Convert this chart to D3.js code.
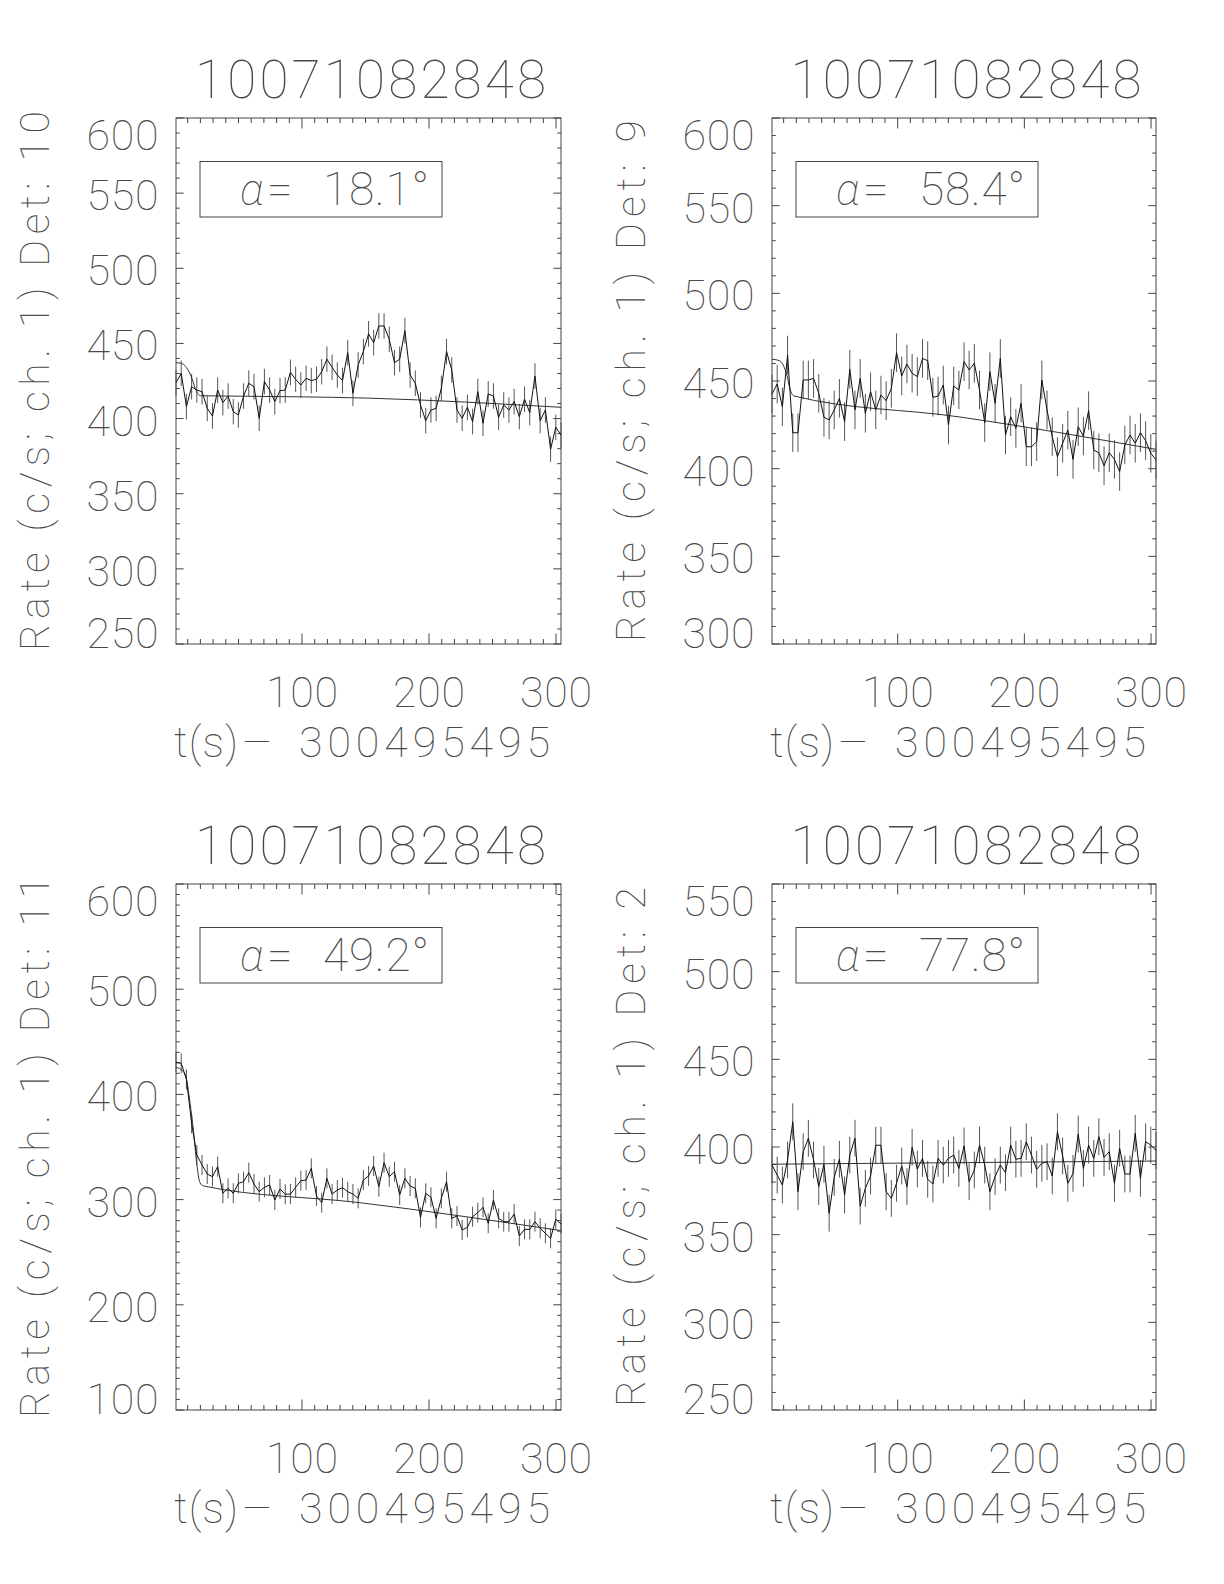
<!DOCTYPE html>
<html><head><meta charset="utf-8">
<script src="https://cdn.jsdelivr.net/npm/d3@7"></script>
<style>
html,body{margin:0;padding:0;background:#fff;}
svg text{font-family:Roboto, Lato, Inter, "DejaVu Sans", sans-serif;font-weight:100;fill:#4a4a4a;}
svg text.greek{font-style:italic;}
</style></head><body>
<svg id="chart" width="1224" height="1584"></svg>
<script>
// ---------------- DATA ----------------
const timeBins = [0.8,4.9,9.0,13.1,17.2,21.3,25.4,29.5,33.6,37.7,41.8,45.9,49.9,54.0,58.1,62.2,66.3,70.4,74.5,78.6,
  82.7,86.8,90.9,95.0,99.1,103.2,107.3,111.4,115.5,119.6,123.7,127.8,131.9,136.0,140.1,144.2,148.3,152.4,156.4,160.5,
  164.6,168.7,172.8,176.9,181.0,185.1,189.2,193.3,197.4,201.5,205.6,209.7,213.8,217.9,222.0,226.1,230.2,234.3,238.4,242.5,
  246.6,250.7,254.8,258.8,262.9,267.0,271.1,275.2,279.3,283.4,287.5,291.6,295.7,299.8,303.9];

const rateDet10 = [423.9,430.1,407.9,421.2,419.0,417.9,406.8,401.7,419.0,410.6,415.0,404.6,402.4,415.0,423.5,421.2,400.2,424.6,419.0,411.3,
  418.6,419.0,430.8,426.1,422.3,426.8,425.3,426.1,431.2,439.5,434.1,429.0,425.3,443.9,416.8,435.7,444.6,456.4,450.5,461.6,
  461.6,452.7,437.2,439.5,458.5,429.0,423.5,409.0,398.6,405.7,406.8,420.1,444.6,432.3,405.7,400.2,407.5,398.0,417.9,396.9,
  416.4,415.0,400.9,409.0,405.7,411.3,401.3,412.9,404.0,428.3,398.6,405.7,379.6,394.2,389.1];

const rateDet9 = [442.6,448.3,435.3,464.8,420.5,420.5,450.6,450.6,451.5,443.0,429.3,427.8,433.5,440.1,426.8,456.7,433.5,451.5,431.6,443.9,
  433.5,442.0,438.8,445.8,466.2,452.9,459.7,454.4,452.5,462.9,461.6,440.7,441.4,447.7,424.9,447.1,444.9,461.0,456.3,460.1,
  444.9,426.2,455.3,437.3,462.9,419.2,429.6,423.0,437.3,412.5,412.5,415.4,450.6,433.5,418.2,406.8,414.5,422.0,405.3,423.9,
  418.6,433.1,410.6,409.1,401.7,409.1,405.3,398.3,413.5,419.2,414.5,420.5,416.0,408.8,405.0];

const rateDet11 = [430.5,429.6,414.3,372.5,342.4,332.9,324.3,321.8,331.3,306.0,310.7,306.0,315.5,317.0,325.6,314.8,307.5,311.7,313.9,299.6,
  310.1,305.0,305.3,311.7,318.0,318.6,329.7,303.4,297.1,320.2,305.3,309.1,311.4,307.5,305.3,301.2,318.6,322.5,332.0,312.3,
  335.1,321.8,326.5,304.4,320.2,312.9,310.7,283.1,306.0,302.2,282.2,301.2,317.0,282.2,284.4,271.1,273.7,283.7,287.6,292.7,
  277.5,299.6,282.2,279.0,279.0,286.3,265.4,271.7,271.7,279.0,272.7,268.0,263.2,281.3,276.8];

const rateDet2 = [389.7,384.0,378.3,392.6,414.4,374.5,397.3,405.0,392.6,377.4,390.1,362.2,382.7,393.0,372.6,395.4,405.0,366.3,376.4,383.5,
  401.0,401.0,374.5,370.7,379.3,389.2,377.4,399.8,387.4,393.5,381.6,378.9,393.5,389.7,393.5,395.4,387.8,400.6,380.2,386.9,
  401.1,389.7,374.5,383.1,389.7,385.4,401.1,393.0,393.5,403.0,395.4,387.3,390.7,391.6,383.5,408.7,394.9,379.3,385.0,407.4,
  387.8,401.1,393.5,405.9,394.1,397.3,379.3,399.3,384.6,384.6,407.8,382.1,403.0,401.1,398.0];

// fitted background model, key points
const fitTimes10 = [0.8,5.0,9.0,13.0,16.0,20.0,40.0,152.0,304.0];
const fitRate10  = [437.2,436.8,434.0,427.5,420.0,415.2,415.0,413.6,407.5];
const fitTimes9  = [0.8,7.0,10.0,12.5,15.0,18.0,149.0,304.0];
const fitRate9   = [462.4,461.5,458.5,453.5,445.5,441.5,429.5,411.0];
const fitTimes11 = [0.8,6.6,9.2,11.9,14.5,17.1,19.7,22.4,146.0,304.0];
const fitRate11  = [425.8,421.6,413.7,391.5,366.0,334.5,316.0,313.0,297.0,270.5];
const fitTimes2  = [0.8,304.0];
const fitRate2   = [390.2,392.0];

const panelTitles   = ["10071082848","10071082848","10071082848","10071082848"];
const detectorNames = ["10","9","11","2"];
const alphaValues   = ["18.1","58.4","49.2","77.8"];
const yDomains      = [[250,600],[300,600],[100,600],[250,550]];
const yMajorSteps   = [50,50,100,50];
const errHalf       = [8.5,11.0,9.5,10.5];
const xTickValues   = [100,200,300];
const xDomain       = [0.8,303.9];
const xAxisTitleParts = ["t(s)", "\u2014", "300495495"];

// ---------------- LAYOUT ----------------
const rates = [rateDet10, rateDet9, rateDet11, rateDet2];
const fits = [[fitTimes10,fitRate10],[fitTimes9,fitRate9],[fitTimes11,fitRate11],[fitTimes2,fitRate2]];
const boxes = [
  {x0:176, x1:561, y0:118, y1:644},
  {x0:772, x1:1156, y0:118, y1:644},
  {x0:176, x1:561, y0:884, y1:1410},
  {x0:772, x1:1156, y0:884, y1:1410}
];
const yLabelLen = [540,522,542,520];

const svg = d3.select("#chart");
const AX = "#444";

boxes.forEach((b, p) => {
  const g = svg.append("g");
  const x = d3.scaleLinear().domain(xDomain).range([b.x0, b.x1]);
  const y = d3.scaleLinear().domain(yDomains[p]).range([b.y1, b.y0]);
  const [ylo, yhi] = yDomains[p];

  // box
  g.append("rect").attr("x", b.x0).attr("y", b.y0).attr("width", b.x1-b.x0).attr("height", b.y1-b.y0)
    .attr("fill","none").attr("stroke",AX).attr("stroke-width",1);

  // x ticks (bottom & top, inward)
  d3.range(10, xDomain[1], 10).forEach(v => {
    const major = xTickValues.includes(v);
    const L = major ? 10.5 : 5;
    const px = x(v);
    g.append("line").attr("x1",px).attr("x2",px).attr("y1",b.y1).attr("y2",b.y1-L).attr("stroke",AX);
    g.append("line").attr("x1",px).attr("x2",px).attr("y1",b.y0).attr("y2",b.y0+L).attr("stroke",AX);
  });
  // y ticks (left & right, inward)
  d3.range(ylo, yhi+0.001, 10).forEach(v => {
    const major = (Math.round(v - ylo) % yMajorSteps[p]) === 0;
    const L = major ? 7.7 : 3.8;
    const py = y(v);
    g.append("line").attr("x1",b.x0).attr("x2",b.x0+L).attr("y1",py).attr("y2",py).attr("stroke",AX);
    g.append("line").attr("x1",b.x1).attr("x2",b.x1-L).attr("y1",py).attr("y2",py).attr("stroke",AX);
  });

  // y tick labels
  d3.range(ylo, yhi+0.001, yMajorSteps[p]).forEach(v => {
    let py = y(v) + 17;
    if (v === yhi) py += 15;
    if (v === ylo) py -= 13;
    g.append("text").attr("x", b.x0-17.5).attr("y", py).attr("text-anchor","end")
      .attr("font-size",43).attr("textLength",72).attr("lengthAdjust","spacing").text(v);
  });
  // x tick labels
  xTickValues.forEach(v => {
    g.append("text").attr("x", x(v)).attr("y", b.y1+63).attr("text-anchor","middle")
      .attr("font-size",43).attr("textLength",72).attr("lengthAdjust","spacing").text(v);
  });
  // x axis title (three pieces so the long dash keeps its width)
  const xb = b.y1 + 113;
  g.append("text").attr("x", b.x0-2).attr("y", xb).attr("font-size",43)
    .attr("textLength",64).attr("lengthAdjust","spacing").text(xAxisTitleParts[0]);
  g.append("text").attr("x", b.x0+67).attr("y", xb-4).attr("font-size",32)
    .attr("textLength",28).attr("lengthAdjust","spacingAndGlyphs").text(xAxisTitleParts[1]);
  g.append("text").attr("x", b.x0+123).attr("y", xb).attr("font-size",43)
    .attr("textLength",251).attr("lengthAdjust","spacing").text(xAxisTitleParts[2]);
  // title
  g.append("text").attr("x", (b.x0+b.x1)/2 + 2).attr("y", b.y0-20).attr("text-anchor","middle")
    .attr("font-size",53).attr("textLength",351).attr("lengthAdjust","spacing").text(panelTitles[p]);
  // y axis title
  const ly = (b.y0+b.y1)/2, lx = b.x0 - 127;
  g.append("text").attr("transform",`translate(${lx},${ly}) rotate(-90)`).attr("text-anchor","middle")
    .attr("font-size",41).attr("textLength",yLabelLen[p]).attr("lengthAdjust","spacing")
    .text("Rate (c/s; ch. 1) Det: " + detectorNames[p]);

  // alpha box
  g.append("rect").attr("x", b.x0+24).attr("y", b.y0+43.5).attr("width",242).attr("height",55.5)
    .attr("fill","none").attr("stroke",AX).attr("stroke-width",1);
  g.append("text").attr("class","greek").attr("x", b.x0+64).attr("y", b.y0+87).attr("font-size",44)
    .text("\u03b1");
  g.append("text").attr("x", b.x0+91).attr("y", b.y0+87).attr("font-size",46).text("=");
  g.append("text").attr("x", b.x0+147).attr("y", b.y0+87).attr("font-size",46)
    .attr("textLength",106).attr("lengthAdjust","spacing").text(alphaValues[p] + "\u00b0");

  // error bars
  const vals = rates[p];
  g.selectAll(null).data(vals).enter().append("line")
    .attr("x1",(d,i)=>x(timeBins[i])).attr("x2",(d,i)=>x(timeBins[i]))
    .attr("y1",d=>y(d-errHalf[p])).attr("y2",d=>y(d+errHalf[p]))
    .attr("stroke","#555").attr("stroke-width",1);
  // fit curve
  const [ft, fv] = fits[p];
  g.append("path").attr("d", d3.line().curve(d3.curveMonotoneX).x((d,i)=>x(ft[i])).y(d=>y(d))(fv))
    .attr("fill","none").attr("stroke","#333").attr("stroke-width",1);
  // data line
  g.append("path").attr("d", d3.line().x((d,i)=>x(timeBins[i])).y(d=>y(d))(vals))
    .attr("fill","none").attr("stroke","#111").attr("stroke-width",1);
});
</script>
</body></html>
